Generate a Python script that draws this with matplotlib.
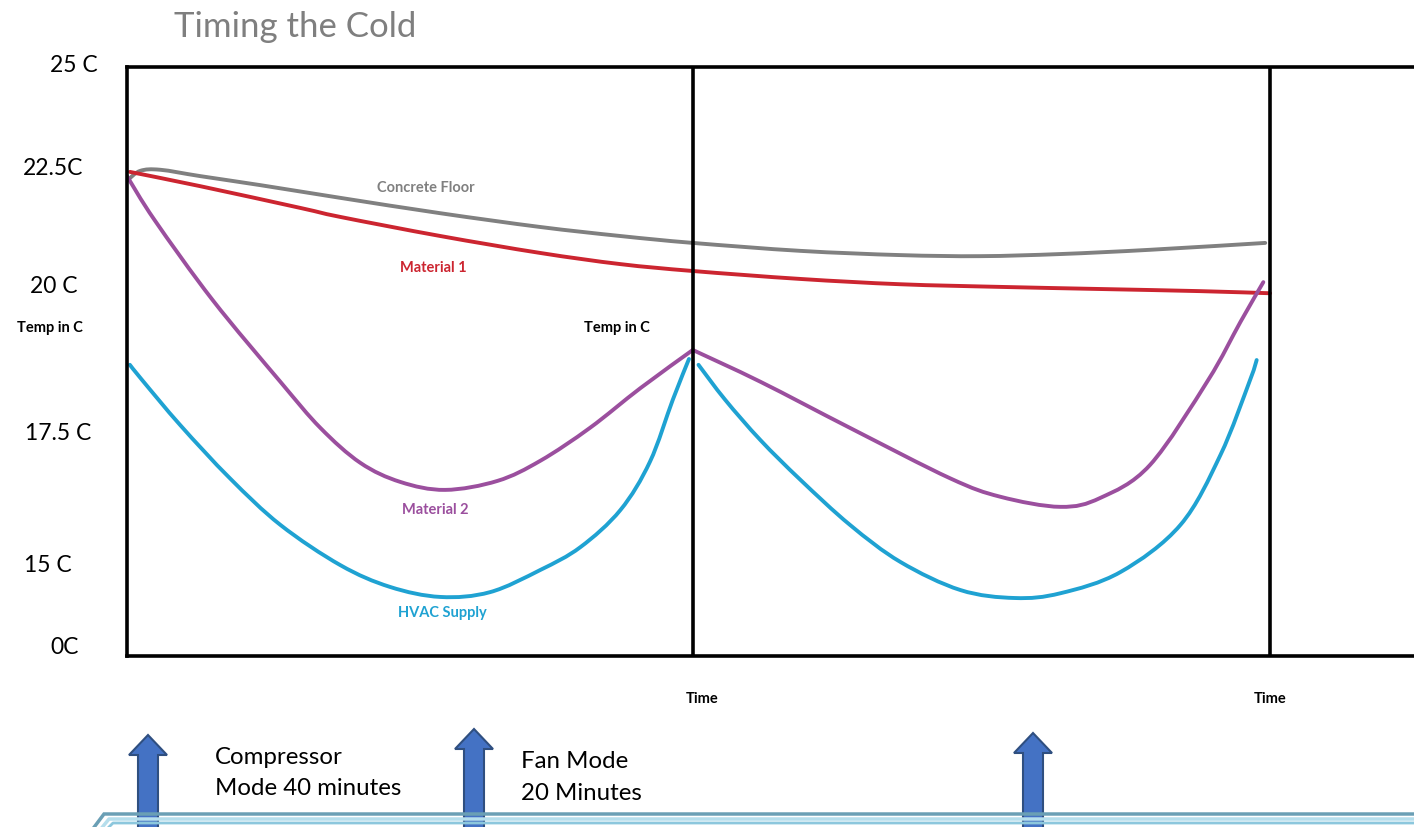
import numpy as np
import matplotlib
matplotlib.use("Agg")
import matplotlib.pyplot as plt
from matplotlib.patches import FancyArrow, PathPatch
from matplotlib.path import Path

# time in minutes (two compressor/fan cycles), temperature in C
concrete_t = [0.1, 1.4, 3.5, 7.7, 14.0, 22.4, 32.9, 43.4, 51.8, 59.4, 70.7, 81.2, 89.6, 98.0, 107.4, 119.5]
concrete_T = [22.22, 22.39, 22.41, 22.29, 22.12, 21.88, 21.59, 21.33, 21.16, 21.03, 20.88, 20.80, 20.78, 20.82, 20.90, 21.03]

mat1_t = [0.3, 7.7, 18.2, 22.4, 32.9, 43.4, 51.8, 59.4, 70.7, 81.2, 91.7, 102.2, 112.7, 120.0]
mat1_T = [22.37, 22.10, 21.69, 21.52, 21.16, 20.84, 20.63, 20.50, 20.35, 20.25, 20.20, 20.16, 20.12, 20.08]

mat2_t = [0.0, 2.9, 9.0, 16.1, 20.3, 24.5, 28.7, 33.4, 38.9, 43.4, 48.6, 53.9, 59.4,
          66.5, 75.9, 86.4, 91.7, 98.0, 102.2, 107.4, 113.5, 116.9, 119.3]
mat2_T = [22.29, 21.46, 19.95, 18.41, 17.54, 16.88, 16.52, 16.37, 16.54, 16.92, 17.54, 18.29, 19.01,
          18.41, 17.54, 16.59, 16.24, 16.05, 16.22, 16.84, 18.44, 19.54, 20.29]

hvac1_t = [0.3, 1.6, 5.6, 10.8, 16.1, 22.4, 27.6, 32.9, 38.1, 43.4, 47.6, 51.8, 54.9, 57.3, 59.0]
hvac1_T = [18.73, 18.44, 17.59, 16.59, 15.71, 14.95, 14.54, 14.35, 14.44, 14.86, 15.29, 15.99, 16.90, 18.07, 18.84]
hvac2_t = [60.0, 62.8, 66.5, 70.7, 75.9, 81.2, 87.5, 93.2, 98.0, 104.3, 110.6, 114.8, 117.9, 118.6]
hvac2_T = [18.73, 18.07, 17.31, 16.56, 15.71, 15.01, 14.48, 14.33, 14.42, 14.82, 15.71, 17.03, 18.44, 18.82]

cycle_ends = [59.4, 120.0]

temp_labels = ["25 C", "22.5C", "20 C", "17.5 C", "15 C", "0C"]
temp_label_x = [50, 23, 30, 25, 24, 50]
temp_label_y = [72, 175, 293, 440, 572, 654]

gray = "#808080"
red = "#CC2530"
purple = "#9B4F9E"
cyan = "#1FA2D2"
arrow_fc = "#4472C4"
arrow_ec = "#2F4F80"


def smooth_curve(ax, xs, ys, color):
    # catmull-rom style bezier through the read points
    p = np.column_stack([xs, ys]).astype(float)
    verts = [p[0]]
    codes = [Path.MOVETO]
    n = len(p)
    for i in range(n - 1):
        p0 = p[i - 1] if i > 0 else p[i]
        p3 = p[i + 2] if i + 2 < n else p[i + 1]
        c1 = p[i] + (p[i + 1] - p0) / 6
        c2 = p[i + 1] - (p3 - p[i]) / 6
        verts += [c1, c2, p[i + 1]]
        codes += [Path.CURVE4] * 3
    ax.add_patch(PathPatch(Path(verts, codes), fill=False, ec=color, lw=2.8,
                           capstyle="round", joinstyle="round"))


W, H = 1414, 827
fig = plt.figure(figsize=(W / 100, H / 100), dpi=100)

# overlay in pixel units for the annotations around the plot
bg = fig.add_axes([0, 0, 1, 1])
bg.set_xlim(0, W)
bg.set_ylim(H, 0)
bg.axis("off")

ax = fig.add_axes([127 / W, 1 - 656 / H, (W - 127) / W, (656 - 67) / H])
ax.patch.set_alpha(0)
ax.set_xlim(0, (W - 127) / 9.525)
ax.set_ylim(22.5 - (656 - 165) / 53, 22.5 + (165 - 67) / 53)
ax.set_xticks([])
ax.set_yticks([])
for s in ["left", "top", "bottom"]:
    ax.spines[s].set_linewidth(2.6)
ax.spines["right"].set_visible(False)
for c in cycle_ends:
    ax.axvline(c, color="black", lw=2.6)

smooth_curve(ax, concrete_t, concrete_T, gray)
smooth_curve(ax, mat1_t, mat1_T, red)
k = mat2_t.index(cycle_ends[0])
smooth_curve(ax, mat2_t[:k + 1], mat2_T[:k + 1], purple)
smooth_curve(ax, mat2_t[k:], mat2_T[k:], purple)
smooth_curve(ax, hvac1_t, hvac1_T, cyan)
smooth_curve(ax, hvac2_t, hvac2_T, cyan)

lab = dict(family="Lato", fontweight="bold", fontsize=10.5, va="baseline")
bg.text(377, 192, "Concrete Floor", color=gray, **lab)
bg.text(400, 272, "Material 1", color=red, **lab)
bg.text(402, 514, "Material 2", color=purple, **lab)
bg.text(398, 617, "HVAC Supply", color=cyan, **lab)
bg.text(17, 332, "Temp in C", color="black", **lab)
bg.text(584, 332, "Temp in C", color="black", **lab)
bg.text(686, 703, "Time", color="black", **lab)
bg.text(1254, 703, "Time", color="black", **lab)

for s, x, y in zip(temp_labels, temp_label_x, temp_label_y):
    bg.text(x, y, s, family="Lato", fontsize=16.5, va="baseline", ha="left")

bg.text(174, 37, "Timing the Cold", family="Lato", fontsize=25, color="#7F7F7F", va="baseline")

txt = dict(family="Lato", fontsize=17.3, va="baseline")
bg.text(215, 764, "Compressor", **txt)
bg.text(215, 795, "Mode 40 minutes", **txt)
bg.text(521, 768, "Fan Mode", **txt)
bg.text(521, 800, "20 Minutes", **txt)

# light blue panel peeking in at the bottom
bg.plot([92, 104, W], [830, 814, 814], color="#6A9FB5", lw=2.5, solid_joinstyle="miter")
bg.plot([100, 109, W], [830, 819, 819], color="#B5DEEC", lw=2.5)
bg.plot([106, 113, W], [830, 823, 823], color="#8CC7DD", lw=2.0)

arrow_x = [148, 474, 1033]
arrow_tip = [735, 729, 733]
for x, tip in zip(arrow_x, arrow_tip):
    bg.add_patch(FancyArrow(x, 835, 0, tip - 835, width=20, head_width=38, head_length=20,
                            length_includes_head=True, fc=arrow_fc, ec=arrow_ec, lw=1.5))

fig.savefig("out.png", dpi=100)
